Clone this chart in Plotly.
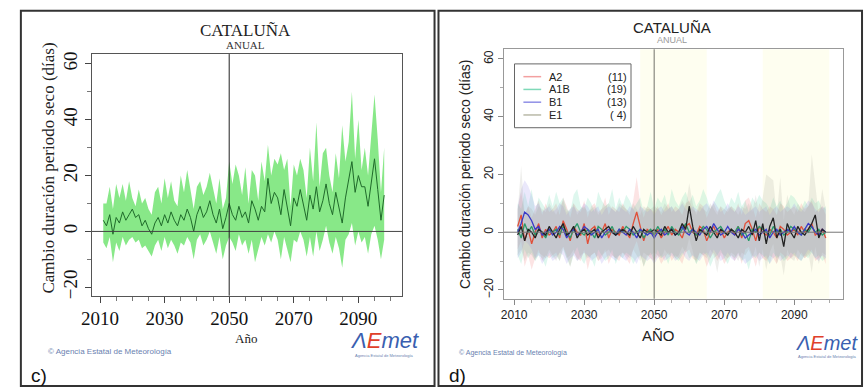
import plotly.graph_objects as go

W, H = 864, 392
def px(x): return x / W
def py(y): return 1 - y / H

# ---------------- Left panel (c): ensemble mean and spread ----------------
years_c = list(range(2011, 2099))
mean_c = [4, 2, 6, -1, 5, 3, 7, 4, 6, 8,
          5, 6, 2, 4, 1, -1, 3, 5, 2, 6,
          3, 7, 4, 2, 6, 4, 8, 5, 0, 6,
          9, 5, 7, 11, 6, 3, 8, 1, 5, 10,
          6, 4, 9, 5, 7, 3, 11, 8, 4, 9,
          7, 19, 10, 14, 12, 6, 15, 8, 2, 12,
          9, 15, 10, 4, 13, 8, 16, 7, 11, 17,
          10, 6, 14, 9, 3, 12, 18, 25, 14, 20,
          16, 16, 9, 18, 26, 15, 4, 13]
upper_c = [10, 10, 16, 8, 17, 12, 17, 11, 18, 12,
           9, 15, 10, 12, 8, 6, 14, 16, 10, 19,
           12, 18, 11, 9, 20, 14, 22, 15, 8, 16,
           18, 13, 16, 21, 15, 10, 19, 8, 12, 25,
           17, 24, 20, 13, 23, 10, 22, 20, 11, 25,
           18, 31, 20, 26, 24, 28, 22, 26, 9, 24,
           20, 26, 22, 12, 30, 18, 39, 16, 28, 30,
           20, 14, 28, 19, 38, 25, 32, 50, 26, 40,
           22, 30, 20, 35, 49, 33, 14, 30]
lower_c = [-4, -6, -2, -11, -4, -7, -2, -5, -3, -2,
           -4, -3, -6, -5, -7, -9, -5, -3, -7, -2,
           -6, -3, -5, -8, -4, -5, -2, -4, -10, -3,
           -1, -5, -3, 0, -4, -8, -2, -10, -5, -2,
           -4, -7, -1, -5, -3, -8, -3, -11, -7, -2,
           -5, -1, -4, 0, -3, -10, -2, -6, -11, -3,
           -4, 0, -3, -9, -2, -9, 0, -7, -3, 2,
           -4, -8, -2, -6, -13, -3, -1, 3, -5, 0,
           -4, -2, -8, -1, 2, -3, -10, -3]

# ---------------- Right panel (d): scenarios ----------------
years_d = list(range(2011, 2100))
scen_names = ["A2", "A1B", "B1", "E1"]
scen_counts = ["(11)", "(19)", "(13)", "( 4)"]

a2_mean = [2, 6, -3, 1, -4, 0, 3, -2, 1, -1,
           0, 2, -2, 4, 1, -3, 2, 0, -1, 3,
           -4, 1, 2, -1, 0, 3, -2, 1, 0, -1,
           2, 0, -2, 3, 7, 2, -3, 1, 0, -1,
           1, -2, 0, 2, -1, 1, 0, -2, 2, 3,
           0, -1, 2, 1, -3, 0, 2, -1, 1, -2,
           0, 1, -1, 2, -2, 3, 4, 1, -3, 2,
           0, -1, 1, 0, -2, 2, 1, -1, 0, 1,
           -1, 2, 0, 1, 3, -1, 0, 1, -2]
a2_upper = [8, 14, 6, 9, 5, 8, 11, 6, 10, 7,
            8, 10, 6, 12, 9, 5, 10, 8, 7, 11,
            5, 9, 10, 7, 8, 12, 6, 9, 8, 7,
            10, 8, 6, 11, 19, 10, 5, 9, 8, 7,
            9, 6, 8, 10, 7, 9, 8, 6, 10, 11,
            8, 7, 10, 9, 5, 8, 10, 7, 9, 6,
            8, 9, 7, 10, 6, 11, 12, 9, 5, 10,
            8, 7, 9, 8, 6, 10, 9, 7, 8, 9,
            7, 10, 8, 9, 11, 7, 8, 9, 6]
a2_lower = [-6, -3, -12, -8, -13, -9, -6, -10, -8, -9,
            -8, -7, -10, -5, -8, -12, -7, -9, -10, -6,
            -13, -8, -7, -10, -9, -6, -11, -8, -9, -10,
            -7, -9, -11, -6, -3, -7, -12, -8, -9, -10,
            -8, -11, -9, -7, -10, -8, -9, -11, -7, -6,
            -9, -10, -7, -8, -12, -9, -7, -10, -8, -11,
            -9, -8, -10, -7, -11, -6, -5, -8, -12, -7,
            -9, -10, -8, -9, -11, -7, -8, -10, -9, -8,
            -10, -7, -9, -8, -6, -10, -9, -8, -11]

a1b_mean = [1, -2, 3, 0, 2, -1, 1, 0, -2, 1,
            0, 1, -1, 2, 0, -2, 1, 3, 0, -1,
            1, 0, -2, 2, 1, -1, 0, 2, -1, 1,
            0, 2, 1, -1, 0, 1, -2, 0, 1, -1,
            2, 0, 1, -1, 2, 0, -1, 1, 3, 0,
            1, -1, 0, 2, 1, -2, 0, 1, 2, 0,
            -1, 1, 0, 2, -1, 0, -3, 1, 0, 2,
            1, 0, -1, 2, 0, 1, -1, 0, 2, 1,
            0, -1, 1, 0, 2, 0, 1, -1, 0]
a1b_upper = [10, 8, 14, 9, 15, 7, 12, 10, 8, 13,
             9, 14, 10, 12, 8, 7, 13, 15, 9, 8,
             12, 10, 7, 14, 11, 9, 10, 15, 8, 12,
             9, 13, 11, 8, 10, 12, 7, 9, 14, 8,
             12, 10, 13, 8, 15, 11, 9, 12, 14, 10,
             13, 9, 11, 15, 12, 8, 10, 13, 15, 11,
             8, 12, 10, 14, 9, 11, 7, 12, 10, 13,
             11, 10, 8, 12, 9, 11, 8, 10, 13, 12,
             10, 8, 11, 9, 12, 10, 11, 8, 9]
a1b_lower = [-8, -11, -6, -9, -7, -10, -8, -9, -12, -7,
             -9, -8, -10, -6, -9, -12, -8, -5, -9, -11,
             -8, -9, -12, -6, -8, -10, -9, -6, -11, -8,
             -9, -7, -8, -11, -9, -8, -12, -9, -7, -10,
             -6, -9, -8, -11, -7, -9, -10, -8, -6, -9,
             -8, -11, -9, -7, -8, -12, -9, -8, -6, -9,
             -11, -8, -9, -7, -10, -9, -13, -8, -9, -7,
             -8, -9, -11, -7, -9, -8, -10, -9, -7, -8,
             -9, -10, -8, -9, -7, -9, -8, -10, -9]

b1_mean = [0, 3, 7, 6, 4, 1, 2, -1, 0, 1,
           -1, 0, 2, 1, -2, 0, 1, -1, 0, 2,
           1, -1, 0, 1, -2, 0, 1, 0, -1, 1,
           0, -1, 1, 0, -2, 1, 0, -1, 0, -2,
           0, 1, -1, 0, 1, -1, 0, 2, 0, -1,
           1, 0, -1, 1, 2, 0, 3, 1, -1, 0,
           2, 0, -1, 1, 0, -2, -1, 0, 1, -1,
           0, 1, -2, 0, 1, -1, 0, 1, 0, 2,
           0, -1, 1, 3, 2, 0, -1, 1, 0]
b1_upper = [9, 15, 18, 16, 13, 9, 10, 7, 8, 9,
            7, 8, 10, 9, 6, 8, 9, 7, 8, 10,
            9, 7, 8, 9, 6, 8, 9, 8, 7, 9,
            8, 7, 9, 8, 6, 9, 8, 7, 8, 6,
            8, 9, 7, 8, 9, 7, 8, 10, 8, 7,
            9, 8, 7, 9, 10, 8, 11, 9, 7, 8,
            10, 8, 7, 9, 8, 6, 7, 8, 9, 7,
            8, 9, 6, 8, 9, 7, 8, 9, 8, 10,
            8, 7, 9, 11, 10, 8, 7, 9, 8]
b1_lower = [-9, -7, -3, -4, -6, -9, -8, -11, -9, -8,
            -10, -9, -7, -8, -11, -9, -8, -10, -9, -7,
            -8, -10, -9, -8, -11, -9, -8, -9, -10, -8,
            -9, -10, -8, -9, -11, -8, -9, -10, -9, -11,
            -9, -8, -10, -9, -8, -10, -9, -7, -9, -10,
            -8, -9, -10, -8, -7, -9, -6, -8, -10, -9,
            -7, -9, -10, -8, -9, -11, -10, -9, -8, -10,
            -9, -8, -11, -9, -8, -10, -9, -8, -9, -7,
            -9, -10, -8, -6, -7, -9, -10, -8, -9]

e1_mean = [-1, 2, -3, 1, 0, -2, 1, 0, -1, 2,
           0, -2, 1, 3, -1, 0, 2, -2, 0, 1,
           -1, 0, 1, -2, 0, 1, 2, 0, -1, 0,
           1, 0, -1, 2, 0, -2, 1, 0, 0, 1,
           0, -1, 2, 0, 1, -1, 0, 3, 1, 9,
           2, -3, 1, 0, -1, 2, 0, -2, 1, 0,
           -1, 1, 0, -2, 1, 0, 2, -1, 4, -3,
           3, -4, 2, 5, -2, 1, -5, 3, 0, -2,
           2, 0, -1, 1, 3, 6, -2, 1, 0]
e1_upper = [7, 23, 6, 9, 8, 6, 9, 8, 7, 10,
            8, 6, 9, 11, 7, 8, 10, 6, 8, 9,
            7, 8, 9, 6, 8, 9, 10, 8, 7, 10,
            9, 8, 7, 10, 8, 6, 9, 8, 8, 9,
            8, 7, 10, 8, 9, 7, 8, 11, 9, 17,
            10, 6, 9, 8, 7, 10, 8, 6, 9, 8,
            7, 9, 8, 6, 9, 8, 10, 7, 13, 6,
            12, 20, 19, 18, 6, 19, 4, 13, 8, 6,
            10, 8, 7, 9, 27, 16, 6, 15, 8]
e1_lower = [-8, -6, -10, -7, -8, -10, -7, -8, -9, -6,
            -8, -10, -7, -5, -9, -8, -6, -10, -8, -7,
            -9, -8, -7, -10, -8, -7, -6, -8, -9, -8,
            -7, -8, -9, -6, -8, -10, -7, -8, -8, -7,
            -8, -9, -6, -8, -7, -9, -8, -5, -7, -2,
            -6, -11, -7, -8, -9, -6, -8, -14, -7, -8,
            -9, -7, -8, -10, -7, -8, -6, -9, -5, -12,
            -6, -13, -7, -4, -11, -8, -15, -6, -9, -10,
            -6, -8, -9, -7, -14, -5, -11, -7, -8]

scen_mean = [a2_mean, a1b_mean, b1_mean, e1_mean]
scen_upper = [a2_upper, a1b_upper, b1_upper, e1_upper]
scen_lower = [a2_lower, a1b_lower, b1_lower, e1_lower]
band_cols = ["rgba(240,120,120,0.20)", "rgba(90,215,170,0.20)",
             "rgba(150,140,235,0.20)", "rgba(160,160,150,0.18)"]
line_cols = ["#e0503a", "#2a9a6a", "#3a3ac8", "#222222"]
legend_cols = ["#f3a0a0", "#7fd9b8", "#8f8fe6", "#b9b9a8"]

fig = go.Figure()

# left band + mean
fig.add_trace(go.Scatter(x=years_c + years_c[::-1], y=upper_c + lower_c[::-1],
                         fill="toself", fillcolor="rgba(115,228,115,0.85)",
                         line=dict(width=0), mode="lines", hoverinfo="skip",
                         xaxis="x", yaxis="y", showlegend=False))
fig.add_trace(go.Scatter(x=years_c, y=mean_c, mode="lines",
                         line=dict(color="#1f6a2a", width=1),
                         xaxis="x", yaxis="y", showlegend=False))

# right bands then lines
for up, lo, bc in zip(scen_upper, scen_lower, band_cols):
    fig.add_trace(go.Scatter(x=years_d + years_d[::-1], y=up + lo[::-1],
                             fill="toself", fillcolor=bc, line=dict(width=0),
                             mode="lines", hoverinfo="skip",
                             xaxis="x2", yaxis="y2", showlegend=False))
for m, lc in zip(scen_mean, line_cols):
    fig.add_trace(go.Scatter(x=years_d, y=m, mode="lines",
                             line=dict(color=lc, width=1.3),
                             xaxis="x2", yaxis="y2", showlegend=False))

serif = "Liberation Serif"
sans = "Liberation Sans"

fig.update_layout(
    width=W, height=H, margin=dict(l=0, r=0, t=0, b=0),
    paper_bgcolor="white", plot_bgcolor="white", showlegend=False,
    xaxis=dict(domain=[px(82), px(396)], range=[2007.5, 2103.5],
               tickvals=[2010, 2030, 2050, 2070, 2090], ticks="outside",
               ticklen=6, tickcolor="#444", showgrid=False, zeroline=False,
               showline=True, linecolor="#555", mirror=True,
               minor=dict(dtick=5, tick0=2010, ticks="outside", ticklen=4, tickcolor="#777"),
               tickfont=dict(family=serif, size=19, color="#111")),
    yaxis=dict(domain=[py(298), py(52)], range=[-23, 63.5],
               tickvals=[-20, 0, 20, 40, 60], ticks="outside", ticklen=6,
               tickcolor="#444", tickangle=-90, showgrid=False, zeroline=False,
               showline=True, linecolor="#555", mirror=True,
               minor=dict(dtick=10, ticks="outside", ticklen=4, tickcolor="#777"),
               tickfont=dict(family=serif, size=19, color="#111")),
    xaxis2=dict(domain=[px(499), px(843)], range=[2007, 2104], anchor="y2",
                tickvals=[2010, 2030, 2050, 2070, 2090], ticks="outside",
                ticklen=5, tickcolor="#888", showgrid=False, zeroline=False,
                showline=True, linecolor="#999", mirror=True,
                minor=dict(dtick=5, tick0=2010, ticks="outside", ticklen=3, tickcolor="#aaa"),
                tickfont=dict(family=sans, size=12, color="#222")),
    yaxis2=dict(domain=[py(301), py(47)], range=[-23, 63.4], anchor="x2",
                tickvals=[-20, 0, 20, 40, 60], ticks="outside", ticklen=5,
                tickcolor="#888", tickangle=-90, showgrid=False, zeroline=False,
                showline=True, linecolor="#999", mirror=True,
                minor=dict(dtick=10, ticks="outside", ticklen=3, tickcolor="#aaa"),
                tickfont=dict(family=sans, size=12, color="#222")),
)

shapes = []
# faint yellow periods on right panel
for x0, x1 in [(2046, 2065), (2081, 2100)]:
    shapes.append(dict(type="rect", xref="x2", yref="y2 domain", x0=x0, x1=x1,
                       y0=0, y1=1, fillcolor="#fefef0", line=dict(width=0), layer="below"))
# reference lines
shapes.append(dict(type="line", xref="x domain", yref="y", x0=0, x1=1, y0=0, y1=0,
                   line=dict(color="#444", width=1)))
shapes.append(dict(type="line", xref="x", yref="y domain", x0=2050, x1=2050, y0=0, y1=1,
                   line=dict(color="#222", width=1)))
shapes.append(dict(type="line", xref="x2 domain", yref="y2", x0=0, x1=1, y0=0, y1=0,
                   line=dict(color="#777", width=1)))
shapes.append(dict(type="line", xref="x2", yref="y2 domain", x0=2050, x1=2050, y0=0, y1=1,
                   line=dict(color="#8a8a80", width=1.2)))
# panel frames
for x0, x1 in [(10, 429), (433, 862)]:
    shapes.append(dict(type="rect", xref="paper", yref="paper", x0=px(x0), x1=px(x1),
                       y0=py(390), y1=py(8), line=dict(color="#333", width=2)))
# legend box (right)
shapes.append(dict(type="rect", xref="paper", yref="paper", x0=px(510), x1=px(628),
                   y0=py(127), y1=py(62), line=dict(color="#666", width=1),
                   fillcolor="white"))
leg_rows = [75, 88, 101, 114]
for yy, c in zip(leg_rows, legend_cols):
    shapes.append(dict(type="line", xref="paper", yref="paper", x0=px(519), x1=px(537),
                       y0=py(yy), y1=py(yy), line=dict(color=c, width=1.5)))
fig.update_layout(shapes=shapes)

ann = []
def A(x, y, text, size, family, color="#111", angle=0, xanchor="center", **kw):
    ann.append(dict(xref="paper", yref="paper", x=px(x), y=py(y), text=text,
                    showarrow=False, font=dict(size=size, family=family, color=color),
                    textangle=angle, xanchor=xanchor, yanchor="middle", **kw))

logo = ("<i><span style='color:#3a5fb0'>Λ</span><span style='color:#e0402a'>E</span>"
        "<span style='color:#3a5fb0'>met</span></i>")
# left texts
A(238, 28, "CATALUÑA", 17, serif, "#222")
A(238, 43, "ANUAL", 11, serif, "#333")
A(37, 168, "Cambio duración periodo seco (días)", 17, serif, "#222", angle=-90)
A(238, 342, "Año", 13, serif, "#222")
A(28, 379, "c)", 19, sans, "#111")
A(35, 355, "© Agencia Estatal de Meteorología", 8, sans, "#6a7fb0", xanchor="left")
A(378, 344, logo, 22, sans)
A(378, 359, "Agencia Estatal de Meteorología", 4, sans, "#6a7fb0")
# right texts
A(670, 25, "CATALUÑA", 15, sans, "#222")
A(670, 38, "ANUAL", 9, sans, "#999")
A(460, 174, "Cambio duración periodo seco (días)", 14, sans, "#222", angle=-90)
A(656, 339, "AÑO", 15, sans, "#222")
A(452, 379, "d)", 19, sans, "#111")
A(452, 356, "© Agencia Estatal de Meteorología", 7, sans, "#6a7fb0", xanchor="left")
A(827, 346, logo, 20, sans)
A(827, 360, "Agencia Estatal de Meteorología", 4, sans, "#6a7fb0")
# legend text
for yy, n, c in zip(leg_rows, scen_names, scen_counts):
    A(543, yy, n, 11, sans, "#222", xanchor="left")
    A(626, yy, c, 11, sans, "#222", xanchor="right")
fig.update_layout(annotations=ann)

fig.write_html("out.html")
